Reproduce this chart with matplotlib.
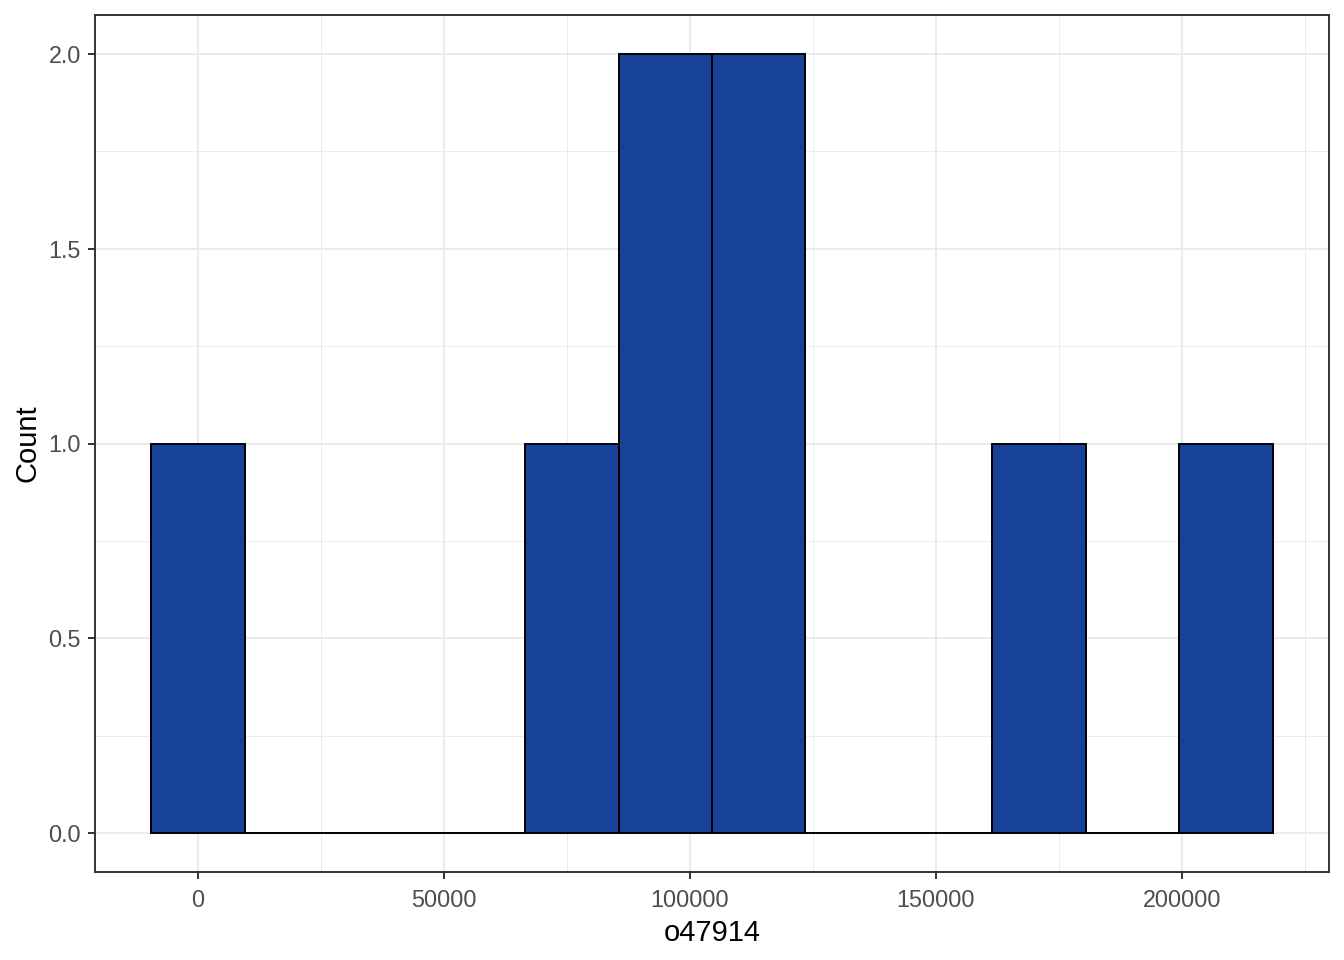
import numpy as np
import matplotlib.pyplot as plt

# histogram bins (centre of first bin, width) and counts per bin
first_center = 0
bin_width = 19000
counts = [1, 0, 0, 0, 1, 2, 2, 0, 0, 1, 0, 1]
x_ticks = [0, 50000, 100000, 150000, 200000]
y_ticks = [0.0, 0.5, 1.0, 1.5, 2.0]

plt.rcParams['font.family'] = ['Liberation Sans', 'DejaVu Sans']

fig = plt.figure(figsize=(13.44, 9.6), dpi=100)
ax = fig.add_axes([95 / 1344, 88 / 960, (1329 - 95) / 1344, (872 - 15) / 960])

centers = first_center + bin_width * np.arange(len(counts))
ax.bar(centers, counts, width=bin_width, color='#174297', edgecolor='black',
       linewidth=1.4, zorder=3)

# ggplot-like expansion of the limits
lo = centers[0] - bin_width / 2
hi = centers[-1] + bin_width / 2
pad = (hi - lo) * 0.05
ax.set_xlim(lo - pad, hi + pad)
ax.set_ylim(-0.1, 2.1)

ax.set_xticks(x_ticks)
ax.set_xticklabels([str(t) for t in x_ticks])
ax.set_yticks(y_ticks)
ax.set_yticklabels(['%.1f' % t for t in y_ticks])
ax.set_xticks([25000, 75000, 125000, 175000, 225000], minor=True)
ax.set_yticks([0.25, 0.75, 1.25, 1.75], minor=True)

ax.grid(which='major', color='#EBEBEB', linewidth=1.4, zorder=0)
ax.grid(which='minor', color='#EBEBEB', linewidth=0.7, zorder=0)
ax.set_axisbelow(True)

for s in ax.spines.values():
    s.set_color('#333333')
    s.set_linewidth(1.4)

ax.tick_params(which='major', length=5, width=1.4, color='#333333',
               labelsize=16.8, labelcolor='#4D4D4D', pad=5)
ax.tick_params(axis='x', which='major', pad=7)
ax.tick_params(which='minor', length=0)

ax.set_xlabel('o47914', fontsize=21, labelpad=5)
ax.set_ylabel('Count', fontsize=21, labelpad=5)

fig.savefig('out.png', dpi=100)
